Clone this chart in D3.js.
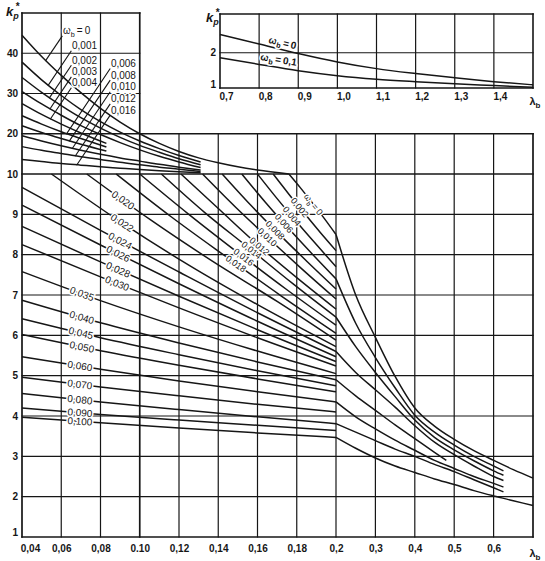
<!DOCTYPE html>
<html><head><meta charset="utf-8">
<script src="https://cdn.jsdelivr.net/npm/d3@7"></script>
<style>
html,body{margin:0;padding:0;background:#fff;}
svg{display:block;}
</style></head><body>
<svg id="c" width="545" height="561"></svg>
<script>
// ================= DATA =================
// main chart axes
const xTickVals   = [0.04,0.06,0.08,0.10,0.12,0.14,0.16,0.18,0.2,0.3,0.4,0.5,0.6];
const xTickLabels = ["0,04","0,06","0,08","0.10","0,12","0,14","0,16","0,18","0,2","0,3","0,4","0,5","0,6"];
const yTickVals   = [1,2,3,4,5,6,7,8,9,10,20,30,40];
// inset axes
const insetXTicks  = [0.7,0.8,0.9,1.0,1.1,1.2,1.3,1.4];
const insetXLabels = ["0,7","0,8","0,9","1,0","1,1","1,2","1,3","1,4"];
const insetYTicks  = [1,2];

// inset curves
const insetLam  = [0.7,0.8,0.9,1.0,1.1,1.2,1.3,1.4,1.5];
const insetK0   = [2.52,2.25,1.98,1.74,1.55,1.41,1.29,1.18,1.09];
const insetK01  = [1.86,1.67,1.49,1.35,1.25,1.18,1.12,1.07,1.02];

// upper box (k 10..50) and 10..20 band
const upperNames = ["0","0,001","0,002","0,003","0,004","0,006","0,008","0,010","0,012","0,016"];
const upperLam = [
  [0.04,0.05,0.06,0.07,0.08,0.09,0.10,0.11,0.12,0.13,0.14,0.15,0.16,0.176],
  [0.04,0.05,0.06,0.07,0.08,0.09,0.10,0.11,0.12,0.131],
  [0.04,0.05,0.06,0.07,0.08,0.09,0.10,0.11,0.12,0.131],
  [0.04,0.05,0.06,0.07,0.08,0.09,0.10,0.11,0.12,0.131],
  [0.04,0.05,0.06,0.07,0.083],
  [0.04,0.05,0.06,0.07,0.083],
  [0.04,0.05,0.06,0.07,0.083],
  [0.04,0.05,0.06,0.07,0.08,0.09,0.10,0.11,0.12,0.131],
  [0.04,0.05,0.06,0.07,0.08,0.09,0.10,0.11,0.12,0.131],
  [0.04,0.05,0.06,0.07,0.08,0.09,0.10,0.11,0.12,0.131]
];
const upperK = [
  [44.5,39.2,34.5,30.2,26.3,22.9,20.0,17.6,15.6,14.0,12.8,11.8,11.0,10.0],
  [37.8,33.4,29.5,26.0,23.0,20.4,18.2,16.3,14.6,13.0],
  [34.0,30.3,27.0,24.0,21.4,19.1,17.1,15.4,13.8,12.3],
  [30.5,27.4,24.6,22.0,19.8,17.8,16.0,14.4,13.0,11.6],
  [27.5,24.8,22.4,20.2,17.6],
  [24.5,22.4,20.5,18.8,16.7],
  [22.0,20.3,18.8,17.4,15.7],
  [19.5,18.2,17.0,15.9,14.9,14.0,13.2,12.4,11.7,11.0],
  [16.8,15.9,15.1,14.3,13.6,12.9,12.3,11.7,11.2,10.6],
  [13.6,13.1,12.6,12.2,11.8,11.45,11.1,10.8,10.55,10.3]
];
// label anchors in the upper box (lambda, k of text baseline-left)
const upperLabelLam = [0.0609,0.0655,0.0655,0.0655,0.0655,0.0853,0.0853,0.0853,0.0853,0.0853];
const upperLabelK   = [44.7,41.0,37.4,34.5,31.8,36.6,33.7,30.8,27.8,25.0];

// lower field (k 1..10, lambda 0.04..0.2)
const lowerNames = ["0","0,002","0,004","0,006","0,008","0,010","0,012","0,014","0,016","0,018",
  "0,020","0,022","0,024","0,026","0,028","0,030","0,035","0,040","0,045","0,050","0,060","0,070","0,080","0,090","0,100"];
const lowerLam = [
  [0.176,0.182,0.188,0.194,0.2],
  [0.168,0.176,0.184,0.192,0.2],
  [0.160,0.170,0.180,0.190,0.2],
  [0.152,0.164,0.176,0.188,0.2],
  [0.142,0.1565,0.171,0.1855,0.2],
  [0.132,0.149,0.166,0.183,0.2],
  [0.121,0.141,0.160,0.180,0.2],
  [0.111,0.133,0.156,0.178,0.2],
  [0.100,0.125,0.150,0.175,0.2],
  [0.088,0.116,0.144,0.172,0.2],
  [0.073,0.105,0.137,0.170,0.2],
  [0.055,0.090,0.125,0.160,0.2],
  [0.04,0.08,0.12,0.16,0.2],[0.04,0.08,0.12,0.16,0.2],[0.04,0.08,0.12,0.16,0.2],
  [0.04,0.08,0.12,0.16,0.2],[0.04,0.08,0.12,0.16,0.2],[0.04,0.08,0.12,0.16,0.2],
  [0.04,0.08,0.12,0.16,0.2],[0.04,0.08,0.12,0.16,0.2],[0.04,0.08,0.12,0.16,0.2],
  [0.04,0.08,0.12,0.16,0.2],[0.04,0.08,0.12,0.16,0.2],[0.04,0.08,0.12,0.16,0.2],
  [0.04,0.08,0.12,0.16,0.2]
];
const lowerK = [
  [10,9.65,9.28,8.9,8.5],
  [10,9.5,9.02,8.55,8.1],
  [10,9.39,8.81,8.25,7.7],
  [10,9.3,8.64,8.01,7.4],
  [10,9.23,8.51,7.82,7.15],
  [10,9.17,8.39,7.63,6.9],
  [10,9.1,8.25,7.43,6.65],
  [10,9.05,8.15,7.28,6.45],
  [10,9.0,8.05,7.13,6.25],
  [10,8.94,7.95,6.98,6.05],
  [10,8.88,7.84,6.84,5.88],
  [10,8.82,7.74,6.76,5.72],
  [9.67,8.6,7.57,6.56,5.6],
  [9.23,8.24,7.28,6.35,5.47],
  [8.7,7.82,6.97,6.14,5.35],
  [8.25,7.45,6.68,5.94,5.24],
  [7.58,6.86,6.21,5.61,5.05],
  [6.87,6.31,5.81,5.34,4.9],
  [6.41,5.94,5.52,5.12,4.75],
  [6.02,5.62,5.26,4.92,4.6],
  [5.47,5.16,4.87,4.6,4.35],
  [4.96,4.72,4.5,4.29,4.1],
  [4.56,4.35,4.16,3.98,3.81],
  [4.2,4.04,3.9,3.77,3.64],
  [3.97,3.83,3.70,3.58,3.47]
];
const lowerLabelLam = [0.1885,0.1815,0.1775,0.1735,0.1690,0.1650,0.1610,0.1570,0.1530,0.1490,
  0.0915,0.091,0.090,0.089,0.089,0.0885,0.0705,0.0705,0.070,0.0705,0.0695,0.0695,0.0695,0.0695,0.0695];

// right field (lambda 0.2..0.7)
const rightLam = [
  [0.2,0.25,0.3,0.35,0.4,0.45,0.5,0.55,0.6,0.65,0.7],
  [0.2,0.25,0.3,0.35,0.4,0.45,0.5,0.55,0.6,0.625],
  [0.2,0.25,0.3,0.35,0.4,0.45,0.5,0.55,0.6,0.625],
  [0.2,0.25,0.3,0.35,0.4,0.45,0.5,0.55,0.6,0.625],
  [0.2,0.25,0.3,0.35,0.4,0.45,0.48],
  [0.2,0.25,0.3,0.35,0.4,0.45,0.5,0.55,0.6,0.625],
  [0.2,0.25,0.3,0.35,0.4,0.45,0.5,0.55,0.6,0.625],
  [0.2,0.25,0.3,0.35,0.4,0.45,0.5,0.55,0.6,0.65,0.7]
];
const rightK = [
  [8.5,7.0,5.95,4.98,4.2,3.75,3.42,3.14,2.9,2.67,2.46],
  [7.4,6.3,5.45,4.7,4.02,3.6,3.28,3.0,2.76,2.64],
  [6.45,5.72,5.08,4.48,3.9,3.47,3.16,2.89,2.64,2.53],
  [5.6,5.08,4.65,4.22,3.76,3.35,3.04,2.76,2.5,2.4],
  [4.9,4.5,4.14,3.78,3.44,3.1,2.9],
  [4.35,3.98,3.68,3.4,3.15,2.9,2.7,2.5,2.33,2.24],
  [3.81,3.6,3.39,3.18,3.0,2.8,2.62,2.42,2.22,2.12],
  [3.47,3.2,2.96,2.76,2.6,2.44,2.3,2.15,2.02,1.9,1.78]
];

// ================= DRAWING =================
const FONT = '"Liberation Sans", Arial, Helvetica, sans-serif';
const INK = '#161616';
const svg = d3.select('#c').attr('font-family', FONT);

const x  = d3.scaleLinear().domain([0.04,0.2,0.7]).range([22,336,533]);
const y  = d3.scaleLinear().domain([1,10,50]).range([537,174,13]);
const xi = d3.scaleLinear().domain([0.7,1.5]).range([220,533]);
const yi = d3.scaleLinear().domain([1,3.1]).range([88,14]);

function interp(lams, ks, lam) {
  const n = lams.length;
  if (lam <= lams[0]) return ks[0];
  if (lam >= lams[n-1]) return ks[n-1];
  const i = d3.bisectRight(lams, lam) - 1;
  const t = (lam - lams[i]) / (lams[i+1] - lams[i]);
  return ks[i] + t * (ks[i+1] - ks[i]);
}
function seg(g, x1, y1, x2, y2, w) {
  g.append('line').attr('x1',x1).attr('y1',y1).attr('x2',x2).attr('y2',y2)
   .attr('stroke',INK).attr('stroke-width',w).attr('stroke-linecap','square');
}
function omega(t, rest) {
  t.append('tspan').text('ω');
  t.append('tspan').attr('dy',2.5).attr('font-size','0.72em').text('b');
  t.append('tspan').attr('dy',-2.5).text('\u2009=\u2009' + rest);
}
function halo(t) {
  return t.attr('stroke','#fff').attr('stroke-width',3).attr('paint-order','stroke').attr('stroke-linejoin','round');
}

// ---------- main grid ----------
const grid = svg.append('g');
const allX = xTickVals.concat([0.7]);
allX.forEach(v => {
  const top = v <= 0.1001 ? 50 : 20;
  const w = (v === 0.04 || v === 0.7 || Math.abs(v-0.10) < 1e-9) ? 1.7 : 1.2;
  seg(grid, x(v), y(1), x(v), y(top), w);
});
[1,2,3,4,5,6,7,8,9,10,20].forEach(k => seg(grid, x(0.04), y(k), x(0.7), y(k), (k===1||k===20||k===10)?1.6:1.2));
[30,40,50].forEach(k => seg(grid, x(0.04), y(k), x(0.10), y(k), k===50?1.6:1.2));

// ---------- main axes ----------
const xa = svg.append('g').attr('transform', `translate(0,${y(1)})`)
  .call(d3.axisBottom(x).tickValues(xTickVals).tickFormat((d,i) => xTickLabels[i]).tickSize(0).tickPadding(8));
xa.select('.domain').remove();
xa.selectAll('text').attr('font-family',FONT).attr('font-size',10).attr('font-weight','bold').attr('fill',INK);
xa.selectAll('text').filter((d,i) => i === 0).attr('dx', 8);

const ya = svg.append('g').attr('transform', `translate(${x(0.04)},0)`)
  .call(d3.axisLeft(y).tickValues(yTickVals).tickFormat(d3.format('d')).tickSize(0).tickPadding(4));
ya.select('.domain').remove();
ya.selectAll('text').attr('font-family',FONT).attr('font-size',10).attr('font-weight','bold').attr('fill',INK);
ya.selectAll('text').filter(d => d === 1).attr('dy','-0.2em');

// axis titles
function kpTitle(px, py) {
  const t = svg.append('text').attr('x',px).attr('y',py).attr('fill',INK)
    .attr('font-size',13).attr('font-weight','bold').attr('font-style','italic');
  t.append('tspan').text('k');
  t.append('tspan').attr('dy',3).attr('font-size',9).text('p');
  t.append('tspan').attr('dy',-9).attr('dx',-3).attr('font-size',10).attr('font-style','normal').text('*');
}
kpTitle(x(0.04) - 16, y(50) + 3);
function lamTitle(px, py) {
  const t = svg.append('text').attr('x',px).attr('y',py).attr('fill',INK)
    .attr('font-size',11).attr('font-weight','bold').attr('text-anchor','middle');
  t.append('tspan').text('λ');
  t.append('tspan').attr('dy',3).attr('font-size',8).text('b');
}
lamTitle(x(0.7) + 2, y(1) + 20);

// ---------- curves ----------
const curves = svg.append('g').attr('fill','none').attr('stroke',INK).attr('stroke-width',1.5);
const line = d3.line().x(d => x(d[0])).y(d => y(d[1])).curve(d3.curveMonotoneX);
function drawSeries(lams, ks) {
  lams.forEach((L, i) => {
    curves.append('path').attr('d', line(L.map((l, j) => [l, ks[i][j]])));
  });
}
drawSeries(upperLam, upperK);
drawSeries(lowerLam, lowerK);
drawSeries(rightLam, rightK);

// ---------- leaders + labels in the upper box ----------
const labels = svg.append('g').attr('fill',INK).attr('font-size',10);
const LEADER_SLOPE = 1.5;
upperNames.forEach((name, i) => {
  const ax = x(upperLabelLam[i]), ay = y(upperLabelK[i]);
  const sx = ax - 1, sy = ay + 2;
  const L = upperLam[i], K = upperK[i];
  let end = null;
  for (let px = sx; px >= x(L[0]); px -= 0.25) {
    const lam = x.invert(px);
    if (lam > L[L.length-1]) continue;
    const cy = y(interp(L, K, lam));
    const ly = sy + (sx - px) * LEADER_SLOPE;
    if (ly >= cy) { end = [px, cy]; break; }
  }
  if (end) seg(curves, sx, sy, end[0], end[1], 1.1);
  const t = halo(labels.append('text').attr('x', ax).attr('y', ay));
  if (i === 0) omega(t, name); else t.text(name);
});

// ---------- labels along lower lines ----------
function alongLabel(g, xs, ys, L, K, lam, dl, txt, isOmega, off, size) {
  const px = xs(lam), py = ys(interp(L, K, lam)) + (off || 0);
  const x1 = xs(lam - dl), y1 = ys(interp(L, K, lam - dl));
  const x2 = xs(lam + dl), y2 = ys(interp(L, K, lam + dl));
  const ang = Math.atan2(y2 - y1, x2 - x1) * 180 / Math.PI;
  const t = halo(g.append('text').attr('text-anchor','middle').attr('dy','0.35em')
    .attr('transform', `translate(${px},${py}) rotate(${ang})`));
  if (size) t.attr('font-size', size);
  if (isOmega) omega(t, txt); else t.text(txt);
}
lowerNames.forEach((name, i) => {
  alongLabel(labels, x, y, lowerLam[i], lowerK[i], lowerLabelLam[i], 0.002, name, i === 0, 0, i < 10 ? 9 : 10);
});

// ---------- inset ----------
const ig = svg.append('g');
seg(ig, xi(0.7), yi(1), xi(1.5), yi(1), 1.6);
seg(ig, xi(0.7), yi(3.1), xi(1.5), yi(3.1), 1.6);
seg(ig, xi(0.7), yi(1), xi(0.7), yi(3.1), 1.6);
seg(ig, xi(1.5), yi(1), xi(1.5), yi(3.1), 1.6);
insetXTicks.slice(1).forEach(v => seg(ig, xi(v), yi(1), xi(v), yi(3.1), 1.2));
seg(ig, xi(0.7), yi(2), xi(1.5), yi(2), 1.2);

const ixa = svg.append('g').attr('transform', `translate(0,${yi(1)})`)
  .call(d3.axisBottom(xi).tickValues(insetXTicks).tickFormat((d,i) => insetXLabels[i]).tickSize(0).tickPadding(5));
ixa.select('.domain').remove();
ixa.selectAll('text').attr('font-family',FONT).attr('font-size',10).attr('font-weight','bold').attr('fill',INK).attr('dx',6);
const iya = svg.append('g').attr('transform', `translate(${xi(0.7)},0)`)
  .call(d3.axisLeft(yi).tickValues(insetYTicks).tickFormat(d3.format('d')).tickSize(0).tickPadding(4));
iya.select('.domain').remove();
iya.selectAll('text').attr('font-family',FONT).attr('font-size',10).attr('font-weight','bold').attr('fill',INK);
iya.selectAll('text').filter(d => d === 1).attr('dy','-0.1em');
kpTitle(xi(0.7) - 14, yi(3.1) + 8);
lamTitle(xi(1.5) + 2, yi(1) + 17);

const iline = d3.line().x(d => xi(d[0])).y(d => yi(d[1])).curve(d3.curveMonotoneX);
ig.append('path').attr('d', iline(insetLam.map((l,j) => [l, insetK0[j]])))
  .attr('fill','none').attr('stroke',INK).attr('stroke-width',1.5);
ig.append('path').attr('d', iline(insetLam.map((l,j) => [l, insetK01[j]])))
  .attr('fill','none').attr('stroke',INK).attr('stroke-width',1.5);
const ilab = svg.append('g').attr('fill',INK).attr('font-size',10).attr('font-weight','bold');
alongLabel(ilab, xi, yi, insetLam, insetK0, 0.86, 0.03, '0', true, -7);
alongLabel(ilab, xi, yi, insetLam, insetK01, 0.85, 0.03, '0,1', true, -8);
</script>
</body></html>
